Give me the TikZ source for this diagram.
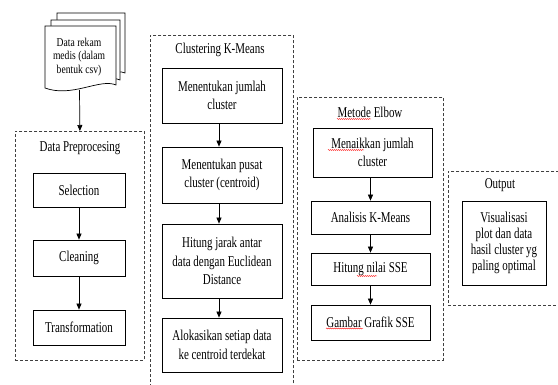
\documentclass[tikz,border=0pt]{standalone}
\usepackage{fontspec}
\setmainfont{Liberation Serif}[FakeStretch=0.73]
\newfontfamily\docfont{Liberation Serif}[FakeStretch=0.8]
\usetikzlibrary{arrows.meta,decorations.pathmorphing}
\tikzset{
  box/.style={draw=black, line width=0.7pt, fill=white, align=center, inner sep=2pt,
    font=\fontsize{15}{18.3}\selectfont},
  grp/.style={draw=black!75, dash pattern=on 3pt off 2pt, line width=0.8pt,
    anchor=north west, inner sep=0pt},
  ttl/.style={font=\fontsize{15}{18}\selectfont, inner sep=0pt},
  arr/.style={-{Triangle[length=6pt,width=5pt]}, line width=0.7pt},
  squig/.style={red, line width=0.45pt, decorate,
    decoration={snake, amplitude=0.5pt, segment length=2pt}},
  page/.style={draw=black, line width=0.7pt, fill=white}
}
\begin{document}
\begin{tikzpicture}[x=1pt,y=-1pt]
\useasboundingbox (0,0) rectangle (558,385);
\clip (0,0) rectangle (558,385);
\fill[white] (0,0) rectangle (558,385);

% document stack
\path[page] (57,13) -- (125,13) -- (125,73) .. controls (110,67) and (84,84) .. (57,76) -- cycle;
\path[page] (51,20) -- (120,20) -- (120,80) .. controls (104,73) and (78,91) .. (51,83) -- cycle;
\path[page] (45,26) -- (116,26) -- (116,85) .. controls (100,78) and (72,98) .. (45,88) -- cycle;
\node[font=\docfont\fontsize{12}{13.3}\selectfont, align=center] (doc) at (79,57)
  {Data rekam\\medis (dalam\\bentuk csv)};
\coordinate (docb) at (79.5,90);

% Data Preprocesing
\node[grp, minimum width=129pt, minimum height=229pt] (pre) at (15,131) {};
\node[ttl] (pret) at (80,148) {Data Preprocesing};
\node[box, minimum width=92pt, minimum height=34pt] (sel) at (79,190) {Selection};
\node[box, minimum width=92pt, minimum height=36pt] (cle) at (79,258) {Cleaning};
\node[box, minimum width=92pt, minimum height=35pt] (tra) at (79,327.5) {Transformation};

% Clustering K-Means
\node[grp, minimum width=143pt, minimum height=360pt] (clu) at (150,35) {};
\node[ttl] (clut) at (220,50) {Clustering K-Means};
\node[box, minimum width=120pt, minimum height=55pt] (c1) at (222,95.5) {Menentukan jumlah\\cluster};
\node[box, minimum width=120pt, minimum height=56pt] (c2) at (222,175) {Menentukan pusat\\cluster (centroid)};
\node[box, minimum width=120pt, minimum height=74pt] (c3) at (222,261) {Hitung jarak antar\\data dengan Euclidean\\Distance};
\node[box, minimum width=120pt, minimum height=54pt] (c4) at (222,345) {Alokasikan setiap data\\ke centroid terdekat};

% Metode Elbow
\node[grp, minimum width=146pt, minimum height=263pt] (elb) at (297,97) {};
\node[ttl] (elbt) at (370,112) {Metode Elbow};
\node[box, minimum width=119pt, minimum height=49pt] (e1) at (372.5,152.5) {Menaikkan jumlah\\cluster};
\node[box, minimum width=119pt, minimum height=33pt] (e2) at (370.5,217.5) {Analisis K-Means};
\node[box, minimum width=119pt, minimum height=32pt] (e3) at (370.5,269) {Hitung nilai SSE};
\node[box, minimum width=119pt, minimum height=35pt] (e4) at (370.5,322.5) {Gambar Grafik SSE};

% Output
\node[grp, minimum width=116pt, minimum height=134pt] (out) at (448,171) {};
\node[ttl] (outt) at (500,185) {Output};
\node[box, minimum width=84pt, minimum height=84pt, font=\fontsize{15}{16}\selectfont] (o1) at (504,243)
  {Visualisasi\\plot dan data\\hasil cluster yg\\paling optimal};

% connectors
\draw[arr] (docb) -- (pre.north);
\draw[arr] (sel) -- (cle);
\draw[arr] (cle) -- (tra);
\draw[arr] ([xshift=-3pt]c1.south) -- ([xshift=-3pt]c2.north);
\draw[arr] ([xshift=-3pt]c2.south) -- ([xshift=-3pt]c3.north);
\draw[arr] ([xshift=-3pt]c3.south) -- ([xshift=-3pt]c4.north);
\draw[arr] (e1.south -| e2.center) -- (e2.north);
\draw[arr] (e2) -- (e3);
\draw[arr] (e3) -- (e4);

% spell-check squiggles
\draw[squig] (337,119) -- (371,119);
\draw[squig] (328,150) -- (364,150);
\draw[squig] (357,276) -- (377,276);
\draw[squig] (326,328.5) -- (363,328.5);
\end{tikzpicture}
\end{document}
